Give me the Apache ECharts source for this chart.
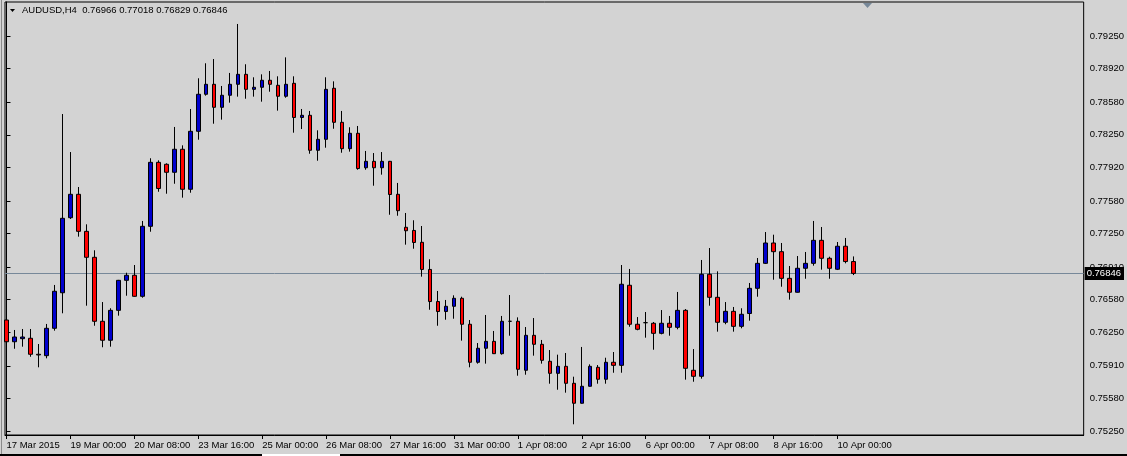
<!DOCTYPE html>
<html>
<head>
<meta charset="utf-8">
<script src="https://cdn.jsdelivr.net/npm/echarts@6/dist/echarts.min.js"></script>
<style>
html,body{margin:0;padding:0;background:#d3d3d3;}
#chart{width:1127px;height:456px;}
</style>
</head>
<body>
<div id="chart"></div>
<script>
// AUDUSD H4 candles, 17 Mar 2015 16:00 .. 10 Apr 2015 08:00
const opens = [0.76374,0.76154,0.76185,0.76189,0.76027,0.76013,0.76290,0.76650,0.77410,0.77647,
0.77272,0.77009,0.76361,0.76169,0.76472,0.76776,0.76827,0.76614,0.77323,0.77971,
0.77951,0.77870,0.78103,0.77698,0.78285,0.78660,0.78761,0.78528,0.78650,0.78761,
0.78862,0.78710,0.78731,0.78802,0.78751,0.78640,0.78771,0.78425,0.78447,0.78093,
0.78204,0.78721,0.78376,0.78109,0.78265,0.77916,0.77981,0.77916,0.77981,0.77647,
0.77313,0.77281,0.77161,0.76886,0.76561,0.76460,0.76513,0.76594,0.76331,0.75946,
0.76088,0.76158,0.76033,0.76361,0.76361,0.75865,0.76219,0.76128,0.75956,0.75834,
0.75905,0.75733,0.75531,0.75703,0.75895,0.75774,0.75946,0.75915,0.76726,0.76331,
0.76347,0.76341,0.76239,0.76341,0.76300,0.76472,0.75865,0.75804,0.76837,0.76604,
0.76351,0.76462,0.76310,0.76440,0.76695,0.76948,0.77154,0.77066,0.76796,0.76655,
0.76898,0.76948,0.77181,0.76999,0.76888,0.77121,0.76966];
const highs = [0.76390,0.76273,0.76283,0.76283,0.76131,0.76334,0.76729,0.78460,0.78075,0.77721,
0.77343,0.77080,0.76556,0.76493,0.76780,0.76853,0.76931,0.77377,0.78012,0.77991,
0.77961,0.78329,0.78143,0.78511,0.78822,0.78974,0.79017,0.78744,0.78876,0.79372,
0.78964,0.78832,0.78862,0.78896,0.78842,0.79034,0.78842,0.78511,0.78491,0.78295,
0.78832,0.78791,0.78491,0.78326,0.78339,0.78086,0.78065,0.78075,0.77985,0.77762,
0.77458,0.77384,0.77326,0.76989,0.76668,0.76577,0.76624,0.76610,0.76374,0.76141,
0.76425,0.76263,0.76415,0.76627,0.76401,0.76303,0.76394,0.76172,0.76070,0.76023,
0.76040,0.75800,0.76101,0.75925,0.75918,0.75992,0.76050,0.76931,0.76891,0.76404,
0.76455,0.76354,0.76475,0.76415,0.76658,0.76485,0.76080,0.76982,0.77103,0.76867,
0.76556,0.76506,0.76493,0.76749,0.77002,0.77265,0.77238,0.77154,0.76921,0.77022,
0.77063,0.77377,0.77316,0.77015,0.77164,0.77205,0.77018];
const lows = [0.76037,0.76083,0.76104,0.76002,0.75895,0.75986,0.76266,0.76442,0.77397,0.77218,
0.76519,0.76316,0.76098,0.76104,0.76418,0.76620,0.76610,0.76600,0.77268,0.77673,
0.77653,0.77754,0.77613,0.77663,0.78200,0.78646,0.78362,0.78403,0.78575,0.78636,
0.78615,0.78636,0.78585,0.78686,0.78494,0.78625,0.78271,0.78308,0.78058,0.77987,
0.78119,0.78311,0.78068,0.78079,0.77896,0.77896,0.77734,0.77846,0.77440,0.77430,
0.77137,0.77096,0.76813,0.76478,0.76316,0.76377,0.76387,0.76165,0.75895,0.75932,
0.75932,0.76030,0.76023,0.76215,0.75810,0.75820,0.76013,0.75932,0.75729,0.75668,
0.75638,0.75318,0.75528,0.75700,0.75729,0.75729,0.75840,0.75840,0.76306,0.76270,
0.76195,0.76073,0.76229,0.76215,0.76280,0.75770,0.75749,0.75780,0.76519,0.76256,
0.76331,0.76256,0.76290,0.76367,0.76610,0.76941,0.76782,0.76711,0.76580,0.76652,
0.76792,0.76924,0.76884,0.76792,0.76880,0.76948,0.76829];
const closes = [0.76154,0.76202,0.76202,0.76027,0.76020,0.76290,0.76665,0.77404,0.77647,0.77272,
0.77009,0.76361,0.76169,0.76472,0.76776,0.76827,0.76614,0.77323,0.77971,0.77706,
0.77870,0.78103,0.77698,0.78285,0.78660,0.78761,0.78528,0.78650,0.78761,0.78862,
0.78710,0.78731,0.78802,0.78761,0.78640,0.78761,0.78425,0.78447,0.78093,0.78204,
0.78710,0.78376,0.78109,0.78265,0.77908,0.77981,0.77916,0.77981,0.77645,0.77481,
0.77278,0.77159,0.76886,0.76561,0.76460,0.76513,0.76594,0.76331,0.75946,0.76088,
0.76158,0.76033,0.76361,0.76361,0.75875,0.76219,0.76128,0.75966,0.75834,0.75905,
0.75733,0.75531,0.75703,0.75905,0.75774,0.75946,0.75915,0.76736,0.76331,0.76280,
0.76347,0.76239,0.76341,0.76300,0.76472,0.75885,0.75804,0.76837,0.76604,0.76351,
0.76462,0.76310,0.76432,0.76695,0.76948,0.77154,0.77066,0.76796,0.76655,0.76898,
0.76948,0.77181,0.76999,0.76898,0.77121,0.76966,0.76846];

const xTickIndex = [0,8,16,24,32,40,48,56,64,72,80,88,96,104];
const xTickLabels = ['17 Mar 2015','19 Mar 00:00','20 Mar 08:00','23 Mar 16:00','25 Mar 00:00','26 Mar 08:00',
  '27 Mar 16:00','31 Mar 00:00','1 Apr 08:00','2 Apr 16:00','6 Apr 00:00','7 Apr 08:00','8 Apr 16:00','10 Apr 00:00'];
const yTickValues = [0.7525,0.7558,0.7591,0.7625,0.7658,0.7691,0.7725,0.7758,0.7792,0.7825,0.7858,0.7892,0.7925];
const bidPrice = 0.76846;
const titleText = 'AUDUSD,H4  0.76966 0.77018 0.76829 0.76846';

const candleData = opens.map((o, i) => [i, o, closes[i], lows[i], highs[i]]);

const FONT = 'Liberation Sans';
const chart = echarts.init(document.getElementById('chart'), null, {renderer: 'canvas'});
chart.setOption({
  animation: false,
  backgroundColor: '#d3d3d3',
  grid: {left: 5, right: 42, top: 2, bottom: 21, show: true, borderColor: '#000', borderWidth: 1, backgroundColor: 'transparent'},
  xAxis: {
    type: 'value', min: -0.1875, max: 134.8125,
    axisLine: {show: true, lineStyle: {color: '#000', width: 1}},
    axisTick: {show: true, inside: false, length: 4, customValues: xTickIndex, lineStyle: {color: '#000'}},
    axisLabel: {
      customValues: xTickIndex, align: 'left', margin: 5, color: '#000', fontFamily: FONT, fontSize: 9.5,
      formatter: v => { const i = xTickIndex.indexOf(Math.round(v)); return i >= 0 ? xTickLabels[i] : ''; }
    },
    splitLine: {show: false}
  },
  yAxis: {
    type: 'value', position: 'right', min: 0.752095, max: 0.795945, scale: true,
    axisLine: {show: true, lineStyle: {color: '#000', width: 1}},
    axisTick: {show: true, inside: false, length: 4, customValues: yTickValues, lineStyle: {color: '#000'}},
    axisLabel: {customValues: yTickValues, margin: 6, color: '#000', fontFamily: FONT, fontSize: 9.5,
      formatter: v => v.toFixed(5)},
    splitLine: {show: false}
  },
  series: [{
    type: 'line',
    data: [],
    silent: true,
    z: 1,
    markLine: {
      silent: true, symbol: ['none', 'none'], animation: false, precision: 5, z: 1,
      lineStyle: {color: '#778899', width: 1, type: 'solid'},
      label: {show: true, position: 'end', distance: 1, formatter: bidPrice.toFixed(5),
        backgroundColor: '#000', color: '#fff', fontFamily: FONT, fontSize: 9.5, padding: [2, 3, 1, 2]},
      data: [{yAxis: bidPrice}]
    }
  }, {
    type: 'candlestick',
    data: candleData,
    encode: {x: 0, y: [1, 2, 3, 4]},
    barWidth: 4,
    z: 3,
    itemStyle: {color: '#0000cd', color0: '#ff0000', borderColor: '#000', borderColor0: '#000', borderWidth: 1},
    emphasis: {disabled: true}
  }],
  graphic: [
    {type: 'polygon', shape: {points: [[10, 9], [15, 9], [12.5, 12]]}, style: {fill: '#000'}},
    {type: 'text', left: 22, top: 5, style: {text: titleText, fill: '#000', font: '9.5px ' + FONT}},
    {type: 'polygon', shape: {points: [[863, 3], [872, 3], [867.5, 8]]}, style: {fill: '#778899'}},
    {type: 'rect', shape: {x: 0, y: 454, width: 1127, height: 2}, style: {fill: '#000'}},
    {type: 'rect', shape: {x: 262, y: 454, width: 78, height: 2}, style: {fill: '#fff'}},
    {type: 'rect', shape: {x: 1, y: 0, width: 1, height: 454}, style: {fill: '#8a8a8a'}}
  ]
});
</script>
</body>
</html>
